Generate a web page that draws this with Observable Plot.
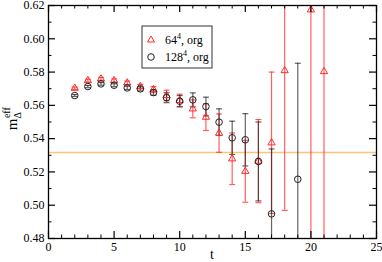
<!DOCTYPE html>
<html><head><meta charset="utf-8">
<script src="https://cdn.jsdelivr.net/npm/d3@7"></script>
<script src="https://cdn.jsdelivr.net/npm/@observablehq/plot@0.6"></script>
<style>body{margin:0;background:#fff}</style>
</head><body><div id="chart"></div>
<script>
// 64^4, org (red triangles)
const t64 = [2, 3, 4, 5, 6, 7, 8, 9, 10, 11, 12, 13, 14, 15, 16, 17, 18, 20, 21];
const m64 = [0.5703, 0.5749, 0.5759, 0.5749, 0.5735, 0.5713, 0.5695, 0.5659, 0.5630, 0.5579, 0.5529, 0.5433, 0.5279, 0.5204, 0.5265, 0.5375, 0.5809, 0.6174, 0.5803];
const e64 = [0.0007, 0.0008, 0.0009, 0.0010, 0.0011, 0.0013, 0.0018, 0.0032, 0.0037, 0.0054, 0.0080, 0.0115, 0.0155, 0.0186, 0.0250, 0.0425, 0.0840, 0.2000, 0.1600];
// 128^4, org (black circles)
const t128 = [2, 3, 4, 5, 6, 7, 8, 9, 10, 11, 12, 13, 14, 15, 16, 17, 19];
const m128 = [0.5659, 0.5713, 0.5729, 0.5721, 0.5705, 0.5699, 0.5677, 0.5646, 0.5625, 0.5633, 0.5593, 0.5499, 0.5405, 0.5393, 0.5263, 0.4948, 0.5156];
const e128 = [0.0006, 0.0007, 0.0008, 0.0009, 0.0010, 0.0012, 0.0016, 0.0030, 0.0034, 0.0042, 0.0056, 0.0080, 0.0100, 0.0157, 0.0237, 0.0390, 0.0697];
// plateau line
const plateau = [0.5317];
// ticks
const xMajor = [0, 5, 10, 15, 20, 25];
const xMinor = [1, 2, 3, 4, 6, 7, 8, 9, 11, 12, 13, 14, 16, 17, 18, 19, 21, 22, 23, 24];
const yMajor = [0.48, 0.50, 0.52, 0.54, 0.56, 0.58, 0.60, 0.62];
const yMinor = [0.49, 0.51, 0.53, 0.55, 0.57, 0.59, 0.61];
const legendLabels = [["64", "4", ", org"], ["128", "4", ", org"]];

const red = t64.map((t, i) => ({t, m: m64[i], e: e64[i]}));
const blk = t128.map((t, i) => ({t, m: m128[i], e: e128[i]}));

const W = 382, H = 262, mL = 48, mR = 6, mT = 5, mB = 24;
const pw = W - mL - mR, ph = H - mT - mB;
const cap = {draw(ctx) { ctx.moveTo(-3, 0); ctx.lineTo(3, 0); }};
const RED = "#ff2a2a", BLK = "#222";

const chart = Plot.plot({
  width: W, height: H,
  marginLeft: mL, marginRight: mR, marginTop: mT, marginBottom: mB,
  style: {fontFamily: "'Liberation Serif', serif", fontSize: "12px", background: "#fff", color: "#000", overflow: "visible"},
  x: {domain: [0, 25]},
  y: {domain: [0.48, 0.62]},
  marks: [
    Plot.ruleY(plateau, {y: d => d, stroke: "#f8c57a", strokeWidth: 1.4}),
    // red error bars
    Plot.ruleX(red, {x: "t", y1: d => d.m - d.e, y2: d => d.m + d.e, stroke: RED, strokeOpacity: 0.75, strokeWidth: 1.2, clip: true}),
    Plot.dot(red, {x: "t", y: d => d.m - d.e, symbol: cap, stroke: RED, strokeOpacity: 0.75, strokeWidth: 1.2, clip: true}),
    Plot.dot(red, {x: "t", y: d => d.m + d.e, symbol: cap, stroke: RED, strokeOpacity: 0.75, strokeWidth: 1.2, clip: true}),
    // black error bars
    Plot.ruleX(blk, {x: "t", y1: d => d.m - d.e, y2: d => d.m + d.e, stroke: BLK, strokeOpacity: 0.7, strokeWidth: 1.2, clip: true}),
    Plot.dot(blk, {x: "t", y: d => d.m - d.e, symbol: cap, stroke: BLK, strokeOpacity: 0.7, strokeWidth: 1.2, clip: true}),
    Plot.dot(blk, {x: "t", y: d => d.m + d.e, symbol: cap, stroke: BLK, strokeOpacity: 0.7, strokeWidth: 1.2, clip: true}),
    // symbols
    Plot.dot(red, {x: "t", y: "m", symbol: "triangle", r: 2.7, stroke: RED, strokeWidth: 1, fill: "none", clip: true}),
    Plot.dot(blk, {x: "t", y: "m", symbol: "circle", r: 3.3, stroke: BLK, strokeWidth: 1, fill: "none", clip: true}),
    // frame
    Plot.frame({stroke: "#000", strokeWidth: 1.3}),
    // inward ticks: bottom / top
    Plot.tickX(xMajor, {x: d => d, insetTop: ph - 7, stroke: "#000", strokeWidth: 1.2}),
    Plot.tickX(xMinor, {x: d => d, insetTop: ph - 3.5, stroke: "#000", strokeWidth: 1}),
    Plot.tickX(xMajor, {x: d => d, insetBottom: ph - 7, stroke: "#000", strokeWidth: 1.2}),
    Plot.tickX(xMinor, {x: d => d, insetBottom: ph - 3.5, stroke: "#000", strokeWidth: 1}),
    // inward ticks: left / right
    Plot.tickY(yMajor, {y: d => d, insetRight: pw - 7, stroke: "#000", strokeWidth: 1.2}),
    Plot.tickY(yMinor, {y: d => d, insetRight: pw - 3.5, stroke: "#000", strokeWidth: 1}),
    Plot.tickY(yMajor, {y: d => d, insetLeft: pw - 7, stroke: "#000", strokeWidth: 1.2}),
    Plot.tickY(yMinor, {y: d => d, insetLeft: pw - 3.5, stroke: "#000", strokeWidth: 1}),
    Plot.axisX({ticks: xMajor, tickSize: 0, tickPadding: 4, label: null, fontSize: 12}),
    Plot.axisY({ticks: yMajor, tickSize: 0, tickPadding: 4, label: null, tickFormat: d3.format(".2f"), fontSize: 12})
  ]
});
document.getElementById("chart").appendChild(chart);

const svg = d3.select(chart);
const sx = chart.scale("x"), sy = chart.scale("y");
const font = "'Liberation Serif', serif";
// x label
svg.append("text").attr("x", sx.apply(12.5)).attr("y", H - 3).attr("text-anchor", "middle")
  .attr("font-family", font).attr("font-size", 14).text("t");
// y label
const yl = svg.append("text").attr("transform", `translate(17,${sy.apply(0.5517)}) rotate(-90)`)
  .attr("text-anchor", "middle").attr("font-family", font).attr("font-size", 15);
yl.append("tspan").text("m");
yl.append("tspan").attr("font-size", 10).attr("dy", 4).text("Δ");
yl.append("tspan").attr("font-size", 10).attr("dx", -6).attr("dy", -11).text("eff");
// legend
const lg = svg.append("g");
lg.append("rect").attr("x", 142).attr("y", 26).attr("width", 70).attr("height", 42)
  .attr("fill", "#fff").attr("stroke", "#333").attr("stroke-width", 1);
const syms = [d3.symbol(d3.symbolTriangle, 21), d3.symbol(d3.symbolCircle, 34)];
const cols = [RED, BLK];
legendLabels.forEach((lab, i) => {
  const cy = 40 + i * 17;
  lg.append("path").attr("d", syms[i]()).attr("transform", `translate(151,${cy})`)
    .attr("fill", "none").attr("stroke", cols[i]).attr("stroke-width", 1);
  const tx = lg.append("text").attr("x", 165).attr("y", cy + 4).attr("text-anchor", "start")
    .attr("font-family", font).attr("font-size", 12);
  tx.append("tspan").text(lab[0]);
  tx.append("tspan").attr("font-size", 8).attr("dy", -5).text(lab[1]);
  tx.append("tspan").attr("dy", 5).text(lab[2]);
});
</script>
</body></html>
